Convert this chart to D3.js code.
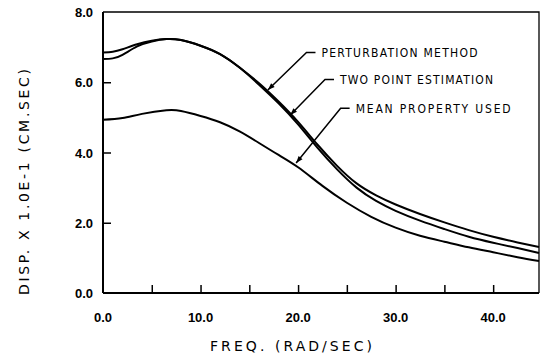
<!DOCTYPE html>
<html>
<head>
<meta charset="utf-8">
<script src="https://cdn.jsdelivr.net/npm/d3@7"></script>
<style>
  html, body { margin: 0; padding: 0; background: #fff; }
  svg { display: block; }
</style>
</head>
<body>
<div id="chart"></div>
<script>
// frequency (rad/sec) samples
const freqMean = [0, 2, 4, 6.5, 8, 10, 12, 14, 16, 18, 20, 22.5, 25, 27.5, 30, 32.5, 35, 37.5, 40, 42.5, 44.7];
const meanProperty = [4.93, 4.98, 5.1, 5.2, 5.18, 5.04, 4.86, 4.6, 4.27, 3.93, 3.58, 3.05, 2.57, 2.17, 1.86, 1.63, 1.46, 1.3, 1.16, 1.02, 0.91];

const freqUpper = [0, 1, 2, 3.5, 5, 6.5, 8, 10, 12, 14, 16, 18, 20, 22, 24, 26, 28, 30, 32.5, 35, 37.5, 40, 42.5, 44.7];
const perturbation = [6.85, 6.87, 6.94, 7.08, 7.18, 7.23, 7.2, 7.04, 6.8, 6.42, 5.97, 5.45, 4.87, 4.22, 3.62, 3.12, 2.78, 2.52, 2.25, 2.01, 1.79, 1.6, 1.44, 1.31];
const twoPoint = [6.66, 6.68, 6.78, 7.02, 7.16, 7.23, 7.2, 7.04, 6.8, 6.42, 5.93, 5.4, 4.8, 4.13, 3.52, 3.0, 2.62, 2.34, 2.06, 1.82, 1.6, 1.43, 1.28, 1.14];

const xTickLabels = [0, 10, 20, 30, 40];
const xMinorTicks = [5, 10, 15, 20, 25, 30, 35, 40];
const yTickLabels = [0, 2, 4, 6, 8];
const yInnerTicks = [2, 4, 6];

// label text, [freq, value] of the arrow tip, label anchor in data units
const labelNames = ['PERTURBATION METHOD', 'TWO POINT ESTIMATION', 'MEAN PROPERTY USED'];
const labelTips = [[16.9, 5.78], [19.2, 5.07], [19.8, 3.7]];
const labelAt = [[22.4, 6.85], [24.3, 6.08], [25.9, 5.26]];
const labelWidths = [156, 153, 155];

const width = 541, height = 359;
const x = d3.scaleLinear().domain([0, 44.7]).range([103, 539]);
const y = d3.scaleLinear().domain([0, 8]).range([293, 12]);

const svg = d3.select('#chart').append('svg')
  .attr('width', width)
  .attr('height', height);

// frame: top and right thin, axes heavier
svg.append('path')
  .attr('d', `M${x(0)},${y(8)} H${x(44.7)} V${y(0)}`)
  .attr('fill', 'none')
  .attr('stroke', '#000')
  .attr('stroke-width', 1.3);

// x axis, ticks pointing inward
const xAxis = d3.axisTop(x).tickValues(xMinorTicks).tickSize(8).tickFormat('');
svg.append('g')
  .attr('transform', `translate(0,${y(0)})`)
  .call(xAxis)
  .call(g => g.select('.domain').attr('stroke-width', 2).attr('d', `M${x(0)},0H${x(44.7)}`))
  .call(g => g.selectAll('.tick line').attr('stroke-width', 1.5));

// y axis
const yAxis = d3.axisRight(y).tickValues(yInnerTicks).tickSize(8).tickFormat('');
svg.append('g')
  .attr('transform', `translate(${x(0)},0)`)
  .call(yAxis)
  .call(g => g.select('.domain').attr('stroke-width', 2).attr('d', `M0,${y(8)}V${y(0)}`))
  .call(g => g.selectAll('.tick line').attr('stroke-width', 1.5));

// tick labels
svg.append('g').selectAll('text')
  .data(xTickLabels)
  .enter().append('text')
  .attr('x', d => x(d))
  .attr('y', 322)
  .attr('text-anchor', 'middle')
  .attr('font-family', 'Liberation Sans, Arial, sans-serif')
  .attr('font-weight', 'bold')
  .attr('font-size', '13px')
  .text(d => d.toFixed(1));

svg.append('g').selectAll('text')
  .data(yTickLabels)
  .enter().append('text')
  .attr('x', 93)
  .attr('y', d => y(d) + 5)
  .attr('text-anchor', 'end')
  .attr('font-family', 'Liberation Sans, Arial, sans-serif')
  .attr('font-weight', 'bold')
  .attr('font-size', '13px')
  .text(d => d.toFixed(1));

// axis titles
svg.append('text')
  .attr('x', 291)
  .attr('y', 351)
  .attr('text-anchor', 'middle')
  .attr('font-family', 'DejaVu Sans, sans-serif')
  .attr('font-size', '14px')
  .attr('textLength', 162)
  .text('FREQ. (RAD/SEC)');

svg.append('text')
  .attr('transform', 'translate(29,182) rotate(-90)')
  .attr('text-anchor', 'middle')
  .attr('font-family', 'DejaVu Sans, sans-serif')
  .attr('font-size', '14px')
  .attr('textLength', 226)
  .text('DISP. X 1.0E-1 (CM.SEC)');

// curves
const line = d3.line()
  .x(d => x(d[0]))
  .y(d => y(d[1]))
  .curve(d3.curveNatural);

const series = [
  d3.zip(freqUpper, perturbation),
  d3.zip(freqUpper, twoPoint),
  d3.zip(freqMean, meanProperty)
];

svg.append('g').selectAll('path')
  .data(series)
  .enter().append('path')
  .attr('d', line)
  .attr('fill', 'none')
  .attr('stroke', '#000')
  .attr('stroke-width', 2);

// labels with leader arrows
const labels = svg.append('g');
labelNames.forEach((name, i) => {
  const tx = x(labelTips[i][0]), ty = y(labelTips[i][1]);
  const lx = x(labelAt[i][0]), ly = y(labelAt[i][1]);
  labels.append('path')
    .attr('d', `M${lx - 6},${ly} H${lx - 15} L${tx},${ty}`)
    .attr('fill', 'none')
    .attr('stroke', '#000')
    .attr('stroke-width', 1.5);
  // small arrow head at the tip
  const ang = Math.atan2(ty - ly, tx - (lx - 15));
  const h = 7, w = 2.5;
  const bx = tx - h * Math.cos(ang), by = ty - h * Math.sin(ang);
  labels.append('path')
    .attr('d', `M${tx},${ty} L${bx - w * Math.sin(ang)},${by + w * Math.cos(ang)} L${bx + w * Math.sin(ang)},${by - w * Math.cos(ang)}Z`)
    .attr('fill', '#000');
  labels.append('text')
    .attr('x', lx)
    .attr('y', ly + 4.5)
    .attr('font-family', 'DejaVu Sans Condensed, DejaVu Sans, sans-serif')
    .attr('font-size', '12px')
    .attr('textLength', labelWidths[i])
    .attr('lengthAdjust', 'spacing')
    .text(name);
});
</script>
</body>
</html>
